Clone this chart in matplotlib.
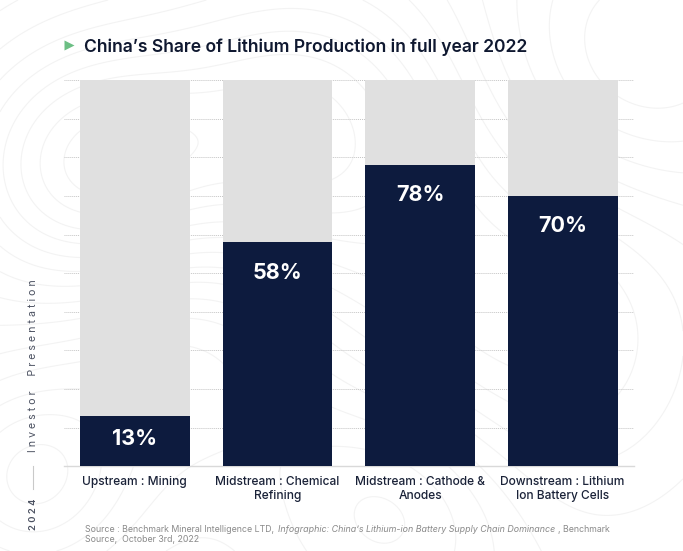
import numpy as np
import matplotlib
matplotlib.use("Agg")
import matplotlib.pyplot as plt

plt.rcParams['font.family'] = ['Inter', 'DejaVu Sans']

categories = ["Upstream : Mining", "Midstream : Chemical\nRefining",
              "Midstream : Cathode &\nAnodes", "Downstream : Lithium\nIon Battery Cells"]
china_share = [13, 58, 78, 70]
total_share = [100, 100, 100, 100]
value_labels = ["13%", "58%", "78%", "70%"]
title = "China\u2019s Share of Lithium Production in full year 2022"

W, H = 683, 551
NAVY = "#0d1b3e"
GREY = "#e0e0e0"

fig = plt.figure(figsize=(W / 100, H / 100), dpi=100, facecolor="white")

# faint topographic background texture
bg = fig.add_axes([0, 0, 1, 1], zorder=0)
bg.set_xlim(0, W); bg.set_ylim(H, 0); bg.axis("off")
gx, gy = np.meshgrid(np.linspace(0, W, 300), np.linspace(0, H, 250))
centers = [(90, 170, 90, 1.0), (300, 130, 110, 0.9), (30, 480, 70, -0.6),
           (520, 330, 130, 0.6), (400, 500, 90, -0.5), (180, 340, 100, -0.4),
           (640, 60, 100, -0.5)]
field = sum(a * np.exp(-((gx - x) ** 2 + (gy - y) ** 2) / (2 * s ** 2)) for x, y, s, a in centers)
bg.contour(gx, gy, field, levels=np.linspace(-0.6, 1.0, 14), colors="#f3f3f3", linewidths=0.8,
           linestyles="solid")

ax = fig.add_axes([63.5 / W, 1 - 466.2 / H, 570.5 / W, 386 / H], zorder=1)
ax.patch.set_alpha(0)
x = np.arange(len(categories))
ax.bar(x, total_share, width=0.77, color=GREY, zorder=2)
ax.bar(x, china_share, width=0.77, color=NAVY, zorder=3)
ax.set_xlim(-0.5, 3.5)
ax.set_ylim(0, 100)
ax.set_yticks(np.arange(10, 101, 10))
ax.set_yticklabels([])
ax.tick_params(left=False, bottom=False, pad=3.5)
ax.yaxis.grid(True, color="#c4c4c4", linewidth=0.7, linestyle=(0, (1, 1)), zorder=1)
ax.set_axisbelow(True)
for s in ("top", "left", "right"):
    ax.spines[s].set_visible(False)
ax.spines["bottom"].set_color("#d9d9d9")
ax.spines["bottom"].set_linewidth(1)
ax.set_xticks(x)
ax.set_xticklabels(categories, fontsize=8.6, color="#1a2238", fontweight="medium", linespacing=1.2)

label_offsets = [-21, -29, -28, -28]
for xi, v, lab, off in zip(x, china_share, value_labels, label_offsets):
    ax.annotate(lab, (xi, v), xytext=(0, off * 0.72), textcoords="offset points",
                ha="center", va="center_baseline", color="white", fontsize=15.5, fontweight="bold", zorder=5)

# page furniture
fig.text(84 / W, 1 - 45.5 / H, title, fontsize=12.62, fontweight="semibold", color="#0f1830",
         ha="left", va="center_baseline")
bg.plot([69], [45], marker=">", ms=7, color="#6cbf84", mec="none", clip_on=False)
fig.text(33 / W, 1 - 366 / H, "Investor  Presentation".replace("", " ").strip(), rotation=90,
         fontsize=7.6, color="#4a5060", ha="center", va="center")
fig.text(33 / W, 1 - 514 / H, "2 0 2 4", rotation=90, fontsize=6.8, color="#4a5060",
         fontweight="semibold", ha="center", va="center")
bg.plot([33, 33], [466, 489], color="#c9c9c9", lw=0.8)

fig.text(85 / W, 1 - 529 / H, "Source : Benchmark Mineral Intelligence LTD,", fontsize=6.35,
         color="#8a8a8a", ha="left", va="center")
fig.text(278 / W, 1 - 529 / H, "Infographic: China\u2019s Lithium-ion Battery Supply Chain Dominance",
         fontsize=6.4, color="#8a8a8a", style="italic", ha="left", va="center")
fig.text(558 / W, 1 - 529 / H, ", Benchmark", fontsize=6.35, color="#8a8a8a", ha="left", va="center")
fig.text(85 / W, 1 - 539 / H, "Source,  October 3rd, 2022", fontsize=6.35, color="#8a8a8a",
         ha="left", va="center")

fig.savefig("out.png", dpi=100, facecolor="white")
